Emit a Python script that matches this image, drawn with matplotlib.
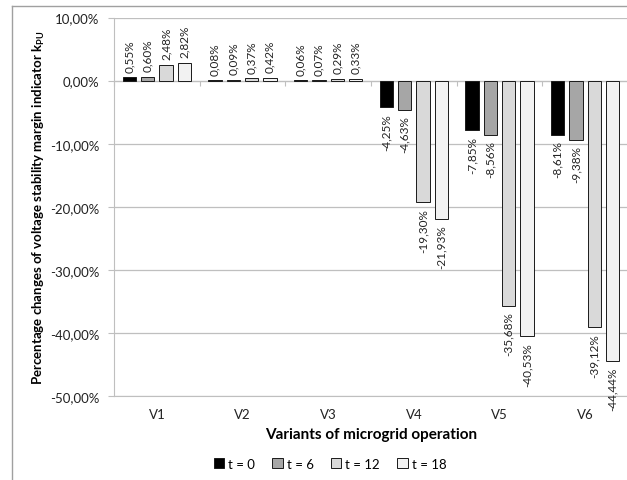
import numpy as np
import matplotlib
matplotlib.use("Agg")
import matplotlib.pyplot as plt
from matplotlib.ticker import FuncFormatter, FixedLocator
from matplotlib.lines import Line2D

plt.rcParams['font.family'] = ['Lato', 'DejaVu Sans']
plt.rcParams['mathtext.fontset'] = 'custom'
plt.rcParams['mathtext.rm'] = 'Lato'
plt.rcParams['mathtext.bf'] = 'Lato:bold'

variants = ['V1', 'V2', 'V3', 'V4', 'V5', 'V6']
series_names = ['t = 0', 't = 6', 't = 12', 't = 18']
t0 = [0.55, 0.08, 0.06, -4.25, -7.85, -8.61]
t6 = [0.60, 0.09, 0.07, -4.63, -8.56, -9.38]
t12 = [2.48, 0.37, 0.29, -19.30, -35.68, -39.12]
t18 = [2.82, 0.42, 0.33, -21.93, -40.53, -44.44]
series = [t0, t6, t12, t18]
colors = ['#000000', '#A6A6A6', '#D9D9D9', '#F2F2F2']
grid_col = '#BFBFBF'

fig = plt.figure(figsize=(6.27, 4.81), dpi=100)
ax = fig.add_axes([114 / 627, 1 - 397 / 481, 514 / 627, (397 - 18.5) / 481])

x = np.arange(len(variants))
width = 0.152
pitch = 0.214
for i, (vals, name, c) in enumerate(zip(series, series_names, colors)):
    pos = x + (i - 1.5) * pitch
    bars = ax.bar(pos, vals, width, color=c, edgecolor='#1a1a1a', linewidth=0.7,
                  label=name, zorder=3)
    labels = [f"{v:.2f}%".replace('.', ',') for v in vals]
    ax.bar_label(bars, labels=labels, rotation=90, padding=4, fontsize=8.5,
                 color='#222222')

ax.set_xlim(-0.5, len(variants) - 0.5)
ax.set_ylim(-50, 10)
ax.set_yticks(np.arange(-50, 11, 10))
ax.yaxis.set_major_formatter(FuncFormatter(lambda v, p: f"{v:.2f}%".replace('.', ',')))
ax.yaxis.grid(True, color=grid_col, linewidth=0.9, zorder=0)
ax.tick_params(axis='y', length=4.5, color=grid_col, pad=6, labelsize=9.5,
               labelcolor='#222222')

# category axis crosses at zero, boundary tick marks
ax.spines['bottom'].set_position(('data', 0))
ax.spines['bottom'].set_color(grid_col)
ax.xaxis.set_major_locator(FixedLocator(np.arange(-0.5, len(variants), 1.0)))
ax.tick_params(axis='x', length=3.5, color=grid_col, labelbottom=False)
for s in ['top', 'right']:
    ax.spines[s].set_visible(False)
ax.spines['left'].set_color(grid_col)

# category labels at bottom of plot
sec = ax.secondary_xaxis(0.0)
sec.set_xticks(x)
sec.set_xticklabels(variants)
sec.tick_params(length=0, pad=9, labelsize=9.5, labelcolor='#222222')
sec.spines['bottom'].set_color(grid_col)
sec.set_xlabel('Variants of microgrid operation', fontsize=11, fontweight='bold',
               labelpad=5)

ax.set_ylabel('Percentage changes of voltage stability margin indicator k$_{\\mathbf{PU}}$',
              fontsize=9.5, fontweight='bold', labelpad=2)

fig.legend(loc='center', bbox_to_anchor=(330 / 627, 1 - 465 / 481), ncol=4,
           frameon=False, fontsize=9.5, handlelength=0.8, handleheight=0.8,
           handletextpad=0.3, columnspacing=1.3)

# outer chart frame
fig.add_artist(Line2D([12 / 627, 12 / 627], [0, 1 - 7 / 481], color='#A0A0A0', linewidth=1))
fig.add_artist(Line2D([12 / 627, 1], [1 - 7 / 481, 1 - 7 / 481], color='#A0A0A0', linewidth=1))

fig.savefig('out.png', dpi=100)
